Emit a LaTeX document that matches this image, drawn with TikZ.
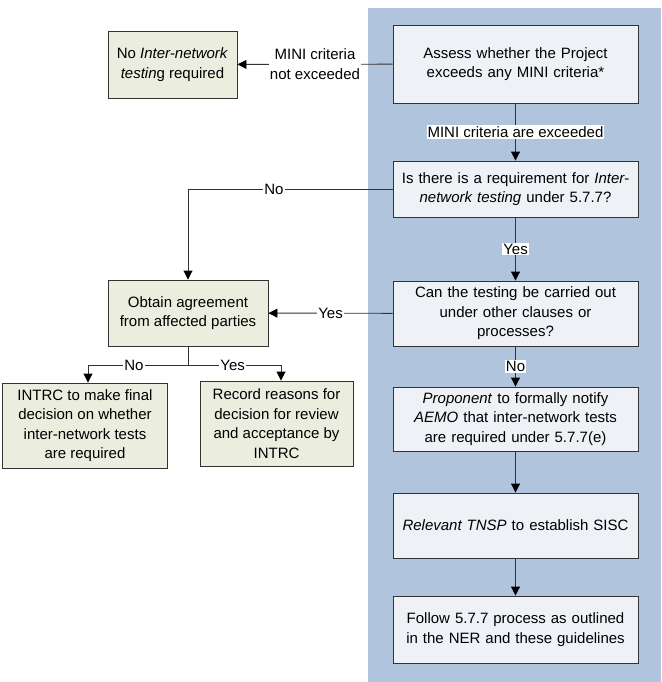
\documentclass[tikz,border=0pt]{standalone}
\usepackage{fontspec}
\setmainfont{Liberation Sans}
\usepackage{tikz}
\usetikzlibrary{arrows.meta,positioning,calc}

\definecolor{panelblue}{HTML}{B0C4DE}
\definecolor{stepfill}{HTML}{EEF1F6}
\definecolor{sidefill}{HTML}{EBEEDE}
\definecolor{linegray}{HTML}{333333}

\begin{document}
\begin{tikzpicture}[
      x=1pt, y=-1pt,
      font=\fontsize{15}{19.5}\selectfont,
      box/.style={
            rectangle, draw=linegray, line width=0.9pt,
            align=center, inner sep=2pt, text=black
        },
      mainbox/.style={box, fill=stepfill,
            minimum width=245pt, text width=240pt},
      sidebox/.style={box, fill=sidefill},
      lbl/.style={fill=white, inner sep=1pt, text=black},
      flow/.style={draw=linegray, line width=0.9pt,
            -{Triangle[length=9pt,width=9pt,color=black]}},
      link/.style={draw=linegray, line width=0.9pt}
      ]
    \useasboundingbox (0,0) rectangle (661,682);
    \fill[panelblue] (368,8) rectangle (661,682);

    % steps in the panel
    \node[mainbox, minimum height=78pt] (assess) at (515.5,64)
        {Assess whether the Project\\exceeds any MINI criteria*};
    \node[mainbox, minimum height=56pt] (req) at (515.5,189)
        {Is there is a requirement for \textit{Inter-}\\\textit{network testing} under 5.7.7?};
    \node[mainbox, minimum height=65pt] (other) at (515.5,313.5)
        {Can the testing be carried out\\under other clauses or\\processes?};
    \node[mainbox, minimum height=64pt] (notify) at (515.5,419)
        {\textit{Proponent} to formally notify\\\textit{AEMO} that inter-network tests\\are required under 5.7.7(e)};
    \node[mainbox, minimum height=65pt] (sisc) at (515.5,525.5)
        {\textit{Relevant TNSP} to establish SISC};
    \node[mainbox, minimum height=67pt] (follow) at (515.5,629.5)
        {Follow 5.7.7 process as outlined\\in the NER and these guidelines};

    % outcomes on the left
    \node[sidebox, minimum width=129pt, minimum height=67pt] (nomini) at (172.5,64.5)
        {No \textit{Inter-network}\\\textit{testin}g required};
    \node[sidebox, minimum width=160pt, minimum height=66pt] (agree) at (188,313)
        {Obtain agreement\\from affected parties};
    \node[sidebox, minimum width=165pt, minimum height=85pt] (intrc) at (85,425.5)
        {INTRC to make final\\decision on whether\\inter-network tests\\are required};
    \node[sidebox, minimum width=153pt, minimum height=85pt] (record) at (276.5,423.5)
        {Record reasons for\\decision for review\\and acceptance by\\INTRC};

    \coordinate (split) at ($(agree.south)+(0,19)$);

    \draw[flow] (assess) -- node[lbl, align=center] {MINI criteria\\not exceeded} (nomini);
    \draw[flow] (assess) -- node[lbl] {MINI criteria are exceeded} (req);
    \draw[flow] (req) -- node[lbl] {Yes} (other);
    \draw[flow] (req.west) -| node[lbl, pos=.29] {No} (agree.north);
    \draw[flow] (other) -- node[lbl] {Yes} (agree);
    \draw[flow] (other) -- node[lbl] {No} (notify);
    \draw[flow] (notify) -- (sisc);
    \draw[flow] (sisc) -- (follow);

    \draw[link] (agree.south) -- (split);
    \draw[flow] (split) -| node[lbl, pos=.27] {No} ($(intrc.north)+(3,0)$);
    \draw[flow] (split) -| node[lbl, pos=.24] {Yes} ($(record.north)+(4.5,0)$);
  \end{tikzpicture}
\end{document}
